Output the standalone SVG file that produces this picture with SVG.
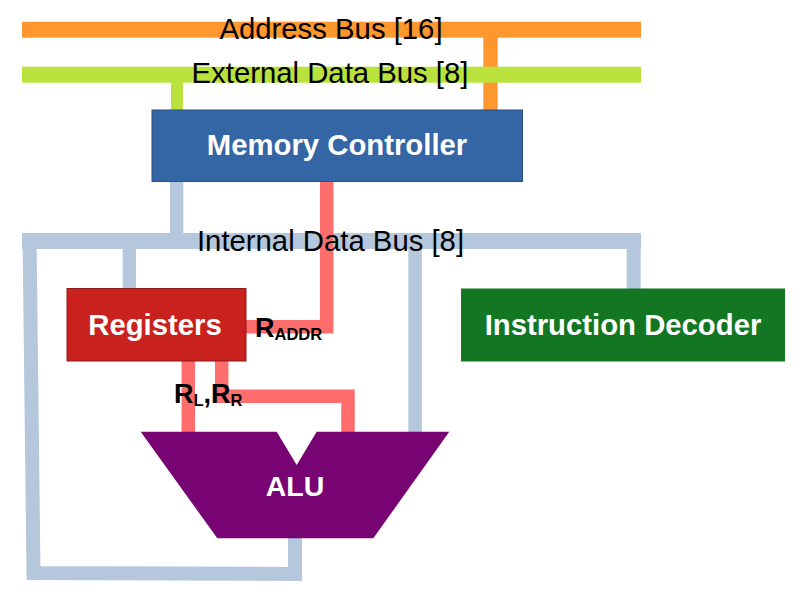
<svg xmlns="http://www.w3.org/2000/svg" width="800" height="595" viewBox="0 0 800 595">
<style>
text{font-family:"Liberation Sans",Arial,sans-serif}
.lbl{font-size:29.3px;fill:#000;text-anchor:middle}
.node{font-size:29.3px;font-weight:bold;fill:#fff;text-anchor:middle}
.sig{font-size:27px;font-weight:bold;fill:#000}
.sub{font-size:16.5px}
.blue{fill:none;stroke:#b4c7dc;stroke-width:14}
.red{fill:none;stroke:#ff6d6d;stroke-width:13.5}
</style>
<rect width="800" height="595" fill="#fff"/>
<g id="connectors">
  <!-- address bus -->
  <rect x="22" y="21.7" width="619" height="16" fill="#ff972f"/>
  <rect x="483.3" y="37" width="14.4" height="73" fill="#ff972f"/>
  <!-- external data bus -->
  <rect x="22" y="66.7" width="619" height="16" fill="#b9e23c"/>
  <rect x="171" y="82" width="12" height="28" fill="#b9e23c"/>
  <!-- internal data bus -->
  <rect x="22" y="233" width="619" height="16" fill="#b4c7dc"/>
  <rect x="170" y="181" width="13.3" height="56" fill="#b4c7dc"/>
  <rect x="122.7" y="241" width="13.3" height="47.5" fill="#b4c7dc"/>
  <rect x="408.3" y="241" width="13.5" height="191" fill="#b4c7dc"/>
  <rect x="626.7" y="241" width="14" height="48" fill="#b4c7dc"/>
  <path class="blue" d="M29.5 233 L33.5 573 L295 574 L295 538"/>
  <!-- red register paths -->
  <path class="red" d="M326.7 181 L326.7 326.7 L246 326.7"/>
  <path class="red" d="M188.3 361 L188.3 432"/>
  <path class="red" d="M221.7 361 L221.7 396.3 L348 396.3 L348 432"/>
</g>
<g id="bus-labels">
  <text class="lbl" x="331" y="39.3">Address Bus [16]</text>
  <text class="lbl" x="330" y="82.7">External Data Bus [8]</text>
  <text class="lbl" x="330.5" y="251">Internal Data Bus [8]</text>
</g>
<g id="memory-controller">
  <rect x="152" y="110" width="370.5" height="71.5" fill="#3465a4" stroke="#2a4f80" stroke-width="1"/>
  <text class="node" x="337" y="155">Memory Controller</text>
</g>
<g id="registers">
  <rect x="67" y="288.5" width="179" height="72.5" fill="#c9211e" stroke="#8b1a18" stroke-width="1"/>
  <text class="node" x="155" y="335">Registers</text>
</g>
<g id="instruction-decoder">
  <rect x="461" y="288.5" width="324" height="73" fill="#127622"/>
  <text class="node" x="623" y="335">Instruction Decoder</text>
</g>
<g id="alu">
  <polygon points="140.7,431.7 276.7,431.7 296.7,465 316.7,431.7 449.3,431.7 373.3,538.3 217.3,538.3" fill="#780373"/>
  <text class="node" x="295" y="496" style="font-size:28.5px">ALU</text>
</g>
<g id="signal-labels">
  <text class="sig" x="255" y="337">R<tspan class="sub" dy="3">ADDR</tspan></text>
  <text class="sig" x="174" y="403.3">R<tspan class="sub" dy="3">L</tspan><tspan dy="-3">,R</tspan><tspan class="sub" dy="3">R</tspan></text>
</g>
</svg>
